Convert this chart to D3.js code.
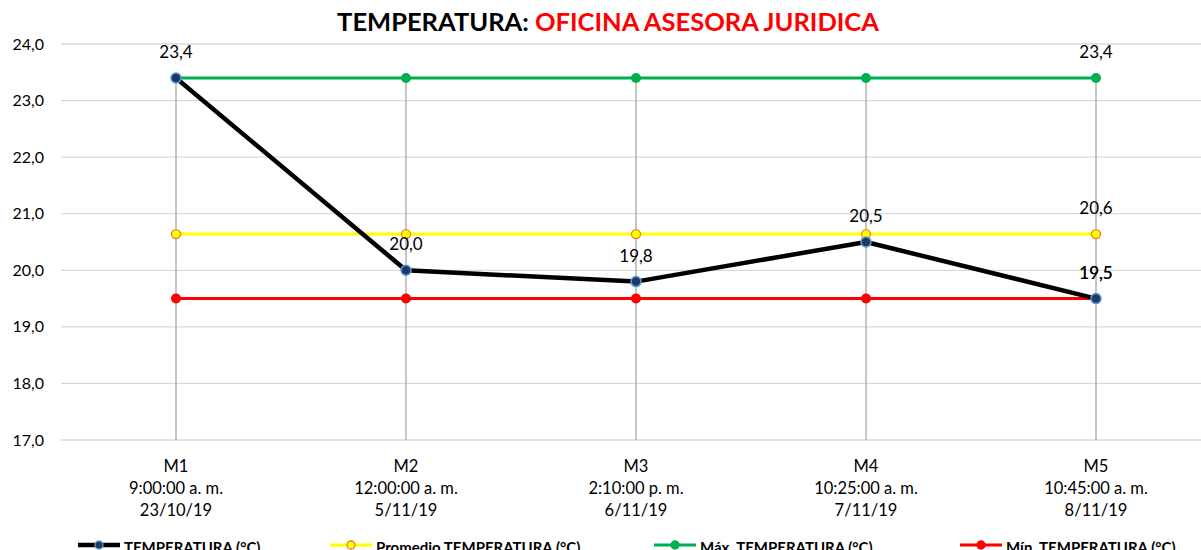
<!DOCTYPE html>
<html><head><meta charset="utf-8">
<script src="https://cdn.jsdelivr.net/npm/d3@7"></script>
<style>body{margin:0;background:#fff;overflow:hidden}svg{display:block;font-family:Lato,"Open Sans",sans-serif}</style>
</head><body>
<script>
const categories = ["M1","M2","M3","M4","M5"];
const times = ["9:00:00 a. m.","12:00:00 a. m.","2:10:00 p. m.","10:25:00 a. m.","10:45:00 a. m."];
const dates = ["23/10/19","5/11/19","6/11/19","7/11/19","8/11/19"];
const temperatura = [23.4, 20.0, 19.8, 20.5, 19.5];
const promedio = [20.64, 20.64, 20.64, 20.64, 20.64];
const maximo = [23.4, 23.4, 23.4, 23.4, 23.4];
const minimo = [19.5, 19.5, 19.5, 19.5, 19.5];
const yTicks = [17, 18, 19, 20, 21, 22, 23, 24];

(function(){
const W = 1201, H = 550;
const svg = d3.select("body").append("svg").attr("width", W).attr("height", H);
const pLeft = 61, pRight = 1211, pTop = 44, pBottom = 440;
const x = d3.scaleBand().domain(categories).range([pLeft, pRight]);
const cx = d => x(d) + x.bandwidth()/2;
const y = d3.scaleLinear().domain([17, 24]).range([pBottom, pTop]);
const fmt = v => d3.format(".1f")(v).replace(".", ",");

// title
const title = svg.append("text").attr("x", 608).attr("y", 31).attr("text-anchor","middle")
  .attr("font-size", 25.5).attr("font-weight","bold");
title.append("tspan").attr("fill","#000").text("TEMPERATURA: ");
title.append("tspan").attr("fill","#ff0000").text("OFICINA ASESORA JURIDICA");

// gridlines
svg.append("g").selectAll("line").data(yTicks).join("line")
  .attr("x1", pLeft).attr("x2", W).attr("y1", d=>y(d)).attr("y2", d=>y(d))
  .attr("stroke", "#d9d9d9").attr("stroke-width", 1.3);

// y axis labels
const yAxis = d3.axisLeft(y).tickValues(yTicks).tickFormat(fmt).tickSize(0).tickPadding(0);
const ya = svg.append("g").attr("transform", `translate(44,0)`).call(yAxis);
ya.select(".domain").remove();
ya.selectAll("text").attr("font-size", 16).attr("fill","#000").attr("font-family","Lato,sans-serif");

// drop lines
svg.append("g").selectAll("line").data(categories).join("line")
  .attr("x1", d=>cx(d)).attr("x2", d=>cx(d))
  .attr("y1", (d,i)=>y(Math.max(temperatura[i], maximo[i], promedio[i], minimo[i]))).attr("y2", pBottom)
  .attr("stroke", "#a6a6a6").attr("stroke-width", 1.3);

// category labels
const cat = svg.append("g").selectAll("text").data(categories).join("text")
  .attr("x", d=>cx(d)).attr("text-anchor","middle").attr("font-size", 16.5).attr("fill","#000");
cat.append("tspan").attr("x", d=>cx(d)).attr("y", 472).text(d=>d);
cat.append("tspan").attr("x", d=>cx(d)).attr("y", 494).text((d,i)=>times[i]);
cat.append("tspan").attr("x", d=>cx(d)).attr("y", 516).text((d,i)=>dates[i]);

const line = d3.line().x((d,i)=>cx(categories[i])).y(d=>y(d));
const series = [
  {data: minimo, color:"#ff0000", w:3, r:5, fill:"#ff0000", stroke:"#ff0000", sw:0},
  {data: maximo, color:"#00b050", w:3, r:5, fill:"#00b050", stroke:"#00b050", sw:0},
  {data: promedio, color:"#ffff00", w:3, r:4.5, fill:"#ffff00", stroke:"#ed7d31", sw:1.3},
  {data: temperatura, color:"#000000", w:4.5, r:5, fill:"#1f3864", stroke:"#5b9bd5", sw:1.5}
];
series.forEach(s => {
  svg.append("path").datum(s.data).attr("d", line).attr("fill","none")
    .attr("stroke", s.color).attr("stroke-width", s.w).attr("stroke-linejoin","round");
});
series.forEach(s => {
  svg.append("g").selectAll("circle").data(s.data).join("circle")
    .attr("cx",(d,i)=>cx(categories[i])).attr("cy", d=>y(d)).attr("r", s.r)
    .attr("fill", s.fill).attr("stroke", s.stroke).attr("stroke-width", s.sw);
});

// data labels
const labels = [];
temperatura.forEach((v,i)=>labels.push([i,v]));
labels.push([4, maximo[4]], [4, promedio[4]], [4, minimo[4]]);
svg.append("g").selectAll("text").data(labels).join("text")
  .attr("x", d=>cx(categories[d[0]])).attr("y", d=>y(d[1]) - 20)
  .attr("text-anchor","middle").attr("font-size", 17).attr("fill","#000")
  .text(d=>fmt(d[1]));

// legend
const legend = [
  {name:"TEMPERATURA (°C)", color:"#000", w:4.5, x:78, r:4, fill:"#1f3864", stroke:"#5b9bd5"},
  {name:"Promedio TEMPERATURA (°C)", color:"#ffff00", w:3, x:330, r:4, fill:"#ffff00", stroke:"#ed7d31"},
  {name:"Máx. TEMPERATURA (°C)", color:"#00b050", w:3, x:654, r:4, fill:"#00b050", stroke:"#00b050"},
  {name:"Mín. TEMPERATURA (°C)", color:"#ff0000", w:3, x:960, r:4, fill:"#ff0000", stroke:"#ff0000"}
];
const lg = svg.append("g").selectAll("g").data(legend).join("g");
lg.append("line").attr("x1",d=>d.x).attr("x2",d=>d.x+42).attr("y1",545).attr("y2",545)
  .attr("stroke",d=>d.color).attr("stroke-width",d=>d.w);
lg.append("circle").attr("cx",d=>d.x+21).attr("cy",545).attr("r",d=>d.r)
  .attr("fill",d=>d.fill).attr("stroke",d=>d.stroke).attr("stroke-width",1.3);
lg.append("text").attr("x",d=>d.x+46).attr("y",553).attr("font-size",15).attr("font-weight","bold")
  .attr("fill","#000").text(d=>d.name);
})();
</script>
</body></html>
